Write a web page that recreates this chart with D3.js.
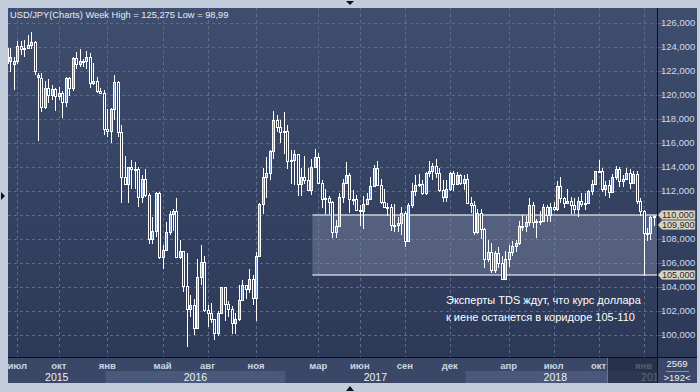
<!DOCTYPE html>
<html><head><meta charset="utf-8">
<script src="https://cdn.jsdelivr.net/npm/d3@7"></script>
<style>
body{margin:0;background:#c3ccda;}
svg{display:block;font-family:"Liberation Sans",Arial,sans-serif;}
</style>
</head><body>
<svg id="c" width="700" height="392"></svg>
<script>
// ---------------- DATA ----------------
const firstWeek = "2015-06-22";
const lastWeek  = "2019-01-21";
const open = [
122.7,122.8,122.6,122.8,124.1,123.8,123.9,124.2,124.4,121.5,121.4,119.0,120.6,120.0,120.5,119.9,120.2,119.4,121.4,120.6,123.1,122.6,122.8,122.8,123.2,121.0,121.2,120.3,
120.2,117.2,117.0,118.8,121.1,116.9,113.2,112.6,114.0,113.8,113.8,111.5,113.0,111.7,108.0,108.7,111.8,106.5,107.1,108.6,110.1,110.3,106.5,107.0,104.1,102.2,102.5,100.6,104.8,106.1,102.1,101.8,101.3,100.2,101.8,104.0,102.6,102.2,101.0,101.3,102.9,104.2,103.8,104.7,103.1,106.6,110.9,113.2,113.5,115.3,117.9,117.3,
116.9,117.0,114.5,114.6,115.1,112.6,113.2,112.9,112.1,114.0,114.8,112.7,111.3,111.4,111.1,108.6,109.1,111.5,112.7,113.3,111.3,111.3,110.4,110.3,110.9,111.3,112.4,113.9,112.5,111.1,110.7,110.7,109.2,109.2,109.3,110.2,107.8,110.8,112.0,112.5,112.6,111.8,113.5,113.7,114.1,113.5,112.1,111.5,112.2,113.5,112.6,113.3,
112.7,113.0,111.0,110.8,108.6,110.2,108.8,106.3,106.9,105.4,106.8,106.0,104.7,106.3,106.9,107.4,107.7,109.1,109.1,109.4,110.8,109.4,109.5,109.5,110.7,110.0,110.7,110.5,112.4,111.4,111.0,111.2,110.8,110.5,111.2,110.9,111.0,112.0,112.6,113.7,113.7,112.2,112.5,111.9,113.2,113.8,112.8,113.0,113.5,112.7,113.4,111.2,110.3,
108.5,108.5,109.8];
const high = [
124.4,123.9,123.2,124.5,124.5,124.6,125.0,125.28,124.5,121.8,121.8,121.2,121.3,120.8,120.6,120.7,120.3,121.5,121.5,123.2,123.6,123.8,123.0,123.7,123.5,122.7,121.5,120.6,
120.4,118.8,118.9,121.7,121.2,117.5,114.9,114.0,114.6,114.4,114.0,113.3,113.8,111.8,109.8,111.9,111.9,107.5,109.4,110.3,110.5,111.4,107.9,107.0,106.8,103.3,103.0,106.3,107.5,106.6,102.5,102.7,101.3,102.0,104.0,104.0,102.8,102.4,101.8,104.2,104.6,104.2,105.5,105.0,106.9,111.0,113.9,114.8,115.4,118.66,118.3,117.9,
118.6,117.5,115.4,115.4,115.1,113.9,114.95,113.9,114.7,115.5,115.2,112.9,112.2,111.6,111.2,109.6,111.8,113.0,114.4,113.5,112.1,111.7,110.8,111.6,111.8,113.2,114.2,114.5,113.0,112.2,111.0,110.9,110.9,109.8,110.7,110.3,111.0,112.7,113.3,113.4,112.9,113.6,114.5,114.3,114.7,113.9,112.9,112.9,113.6,113.7,113.6,113.4,
113.3,113.4,111.5,111.2,110.5,110.5,108.9,107.9,107.7,107.0,107.3,106.6,107.0,107.5,107.8,107.9,109.5,110.0,109.9,111.4,111.1,109.7,110.3,110.9,110.8,111.0,111.1,112.8,113.2,111.5,112.2,111.5,111.4,111.5,111.8,111.8,112.1,112.9,113.7,114.55,113.9,112.8,112.9,113.4,114.1,114.0,113.3,113.9,113.8,113.7,113.7,111.4,110.4,
108.9,109.9,110.0];
const low = [
122.6,121.9,120.4,122.6,123.3,123.2,123.8,123.8,121.7,116.2,118.6,118.8,119.3,119.6,118.7,119.6,118.1,119.0,119.9,120.3,122.2,122.3,122.3,122.2,120.6,120.8,120.2,120.1,
116.7,116.5,116.0,117.9,116.5,111.0,112.5,111.0,112.2,112.2,110.7,111.0,111.5,107.6,107.6,108.2,106.3,105.5,107.0,108.3,108.7,106.5,106.3,103.6,99.0,101.5,100.0,100.6,104.2,101.9,100.7,101.0,99.55,99.9,101.8,101.2,101.5,100.1,100.1,101.2,102.9,103.0,103.5,102.5,101.2,106.6,110.1,111.4,112.9,114.7,116.9,116.0,
115.1,113.8,112.6,112.5,111.6,111.6,112.6,112.1,111.7,113.9,112.6,110.6,110.1,110.1,108.1,108.1,109.1,111.0,112.7,110.2,110.8,110.3,109.1,108.8,110.9,111.3,112.3,112.4,110.9,110.6,109.9,108.7,108.6,108.6,108.3,107.3,107.8,110.6,111.6,112.3,111.7,111.7,113.2,112.9,113.1,111.9,111.1,111.1,112.0,112.0,112.5,112.5,
112.1,110.9,110.2,108.3,108.4,108.0,105.6,106.1,105.2,105.2,105.6,104.6,104.6,105.7,106.6,106.9,107.5,108.7,108.6,109.1,108.9,108.1,109.2,109.4,109.4,109.4,110.3,110.3,111.0,110.6,110.9,110.1,110.1,109.8,110.7,110.4,110.9,111.7,112.5,113.5,111.9,111.6,111.4,111.8,112.9,112.3,112.3,113.0,112.2,112.6,110.9,109.9,104.9,
107.8,107.9,109.1];
const close = [
123.9,123.2,122.8,124.1,123.8,123.9,124.2,124.4,122.0,121.7,119.0,120.6,120.0,120.5,119.9,120.2,119.4,121.4,120.6,123.1,122.6,122.8,122.8,123.2,121.0,121.2,120.3,120.2,
117.2,117.0,118.8,121.1,116.9,113.2,112.6,114.0,113.8,113.8,111.5,113.0,111.7,108.0,108.7,111.8,106.5,107.1,108.6,110.1,110.3,106.5,107.0,104.1,102.2,102.5,100.6,104.8,106.1,102.1,101.8,101.3,100.2,101.8,104.0,102.6,102.2,101.0,101.3,102.9,104.2,103.8,104.7,103.1,106.6,110.9,113.2,113.5,115.3,117.9,117.3,116.9,
117.0,114.5,114.6,115.1,112.6,113.2,112.9,112.1,114.0,114.8,112.7,111.3,111.4,111.1,108.6,109.1,111.5,112.7,113.3,111.3,111.3,110.4,110.3,110.9,111.3,112.4,113.9,112.5,111.1,110.7,110.7,109.2,109.2,109.3,110.2,107.8,110.8,112.0,112.5,112.6,111.8,113.5,113.7,114.1,113.5,112.1,111.5,112.2,113.5,112.6,113.3,112.7,
113.0,111.0,110.8,108.6,110.2,108.8,106.3,106.9,105.4,106.8,106.0,104.7,106.3,106.9,107.4,107.7,109.1,109.1,109.4,110.8,109.4,109.5,109.5,110.7,110.0,110.7,110.5,112.4,111.4,111.0,111.2,110.8,110.5,111.2,110.9,111.0,112.0,112.6,113.7,113.7,112.2,112.5,111.9,113.2,113.8,112.8,113.0,113.5,112.7,113.4,111.2,110.3,108.5,
108.5,109.8,109.9];

const yTicks = [100,102,104,106,108,110,112,114,116,118,120,122,124,126];
const monthTicks  = ["2015-07-13","2015-10-05","2016-01-11","2016-05-02","2016-08-01","2016-11-07","2017-03-13","2017-06-05","2017-09-04","2017-12-04","2018-04-02","2018-07-02","2018-10-01","2018-12-31"];
const monthLabels = ["июл","окт","янв","май","авг","ноя","мар","июн","сен","дек","апр","июл","окт","янв"];
const yearStarts  = ["2015-06-22","2016-01-04","2017-01-02","2018-01-01","2018-12-31"];
const yearLabels  = ["2015","2016","2017","2018","2019"];
const corridor = {from:"2017-03-01", hi:110, lo:105};
const tagValues = [110, 109.9, 105];
const tagLabels = ["110,000","109,900","105,000"];
const titleText = "USD/JPY(Charts) Week High = 125,275 Low = 98,99";
const noteLines = ["Эксперты TDS ждут, что курс доллара","к иене останется в коридоре 105-110"];
const cornerTop = "2569", cornerBottom = ">192<";

// ---------------- LAYOUT ----------------
const P = {l:8, t:8, r:657, b:357, axB:383, axR:697};
const parse = d3.utcParse("%Y-%m-%d");
const weeks = d3.utcMonday.range(parse(firstWeek), d3.utcDay.offset(parse(lastWeek),1));
const data = weeks.map((d,i)=>({d, o:open[i], h:high[i], l:low[i], c:close[i]}));

const x = d3.scaleUtc().domain([parse(firstWeek), parse(lastWeek)]).range([6.9, 653.9]);
const y = d3.scaleLinear().domain([100,126]).range([335,23]);
const step = x(weeks[1]) - x(weeks[0]);

const svg = d3.select("#c");
const defs = svg.append("defs");
const g1 = defs.append("linearGradient").attr("id","bg").attr("x1",0).attr("y1",0).attr("x2",0).attr("y2",1);
g1.append("stop").attr("offset","0%").attr("stop-color","#3f4d6e");
g1.append("stop").attr("offset","100%").attr("stop-color","#2c3957");
defs.append("clipPath").attr("id","plotclip").append("rect")
  .attr("x",P.l).attr("y",P.t).attr("width",P.r-P.l).attr("height",P.b-P.t);
defs.append("clipPath").attr("id","axclip").append("rect")
  .attr("x",P.l).attr("y",P.b).attr("width",P.r-P.l).attr("height",P.axB-P.b);

svg.append("rect").attr("width",700).attr("height",392).attr("fill","#c3ccda");
svg.append("rect").attr("x",P.l).attr("y",P.t).attr("width",P.axR-P.l).attr("height",P.b-P.t).attr("fill","url(#bg)");
svg.append("rect").attr("x",P.l).attr("y",P.b).attr("width",P.r-P.l).attr("height",P.axB-P.b).attr("fill","#3a4766");
svg.append("rect").attr("x",P.r).attr("y",P.b).attr("width",P.axR-P.r).attr("height",P.axB-P.b).attr("fill","#3a4766");

// year bands
const axg = svg.append("g").attr("clip-path","url(#axclip)");
yearStarts.forEach((s,i)=>{
  const x0 = i===0 ? P.l : x(parse(s)) + step/2;
  const x1 = i<yearStarts.length-1 ? x(parse(yearStarts[i+1])) + step/2 : P.r + 30;
  if (i%2===1) axg.append("rect").attr("x",x0).attr("y",371).attr("width",x1-x0).attr("height",12).attr("fill","#4a5879");
  const cx = i===yearStarts.length-1 ? x0+7.5 : (x0+x1)/2;
  axg.append("text").attr("x", cx).attr("y",380.5).attr("text-anchor","middle")
    .attr("fill","#eef2f8").attr("font-size",10.5).text(yearLabels[i]);
});
monthTicks.forEach((s,i)=>{
  axg.append("text").attr("x",x(parse(s))).attr("y",368.5).attr("text-anchor","middle")
    .attr("fill","#dbe3f0").attr("font-size",9.5).attr("font-weight","bold").attr("opacity",0.9).text(monthLabels[i]);
});
svg.append("rect").attr("x",607).attr("y",P.b).attr("width",P.r-607).attr("height",P.axB-P.b).attr("fill","#1f2a42").attr("opacity",0.7);
svg.append("line").attr("x1",607.5).attr("x2",607.5).attr("y1",P.b).attr("y2",P.axB).attr("stroke","#6a7691");

// grid
const grid = svg.append("g").attr("clip-path","url(#plotclip)");
grid.selectAll(".hg").data(yTicks).join("line")
  .attr("x1",P.l).attr("x2",P.r).attr("y1",d=>Math.round(y(d))+0.5).attr("y2",d=>Math.round(y(d))+0.5)
  .attr("stroke","#5d6b8c").attr("stroke-dasharray","3,3");
grid.selectAll(".vg").data(monthTicks).join("line")
  .attr("x1",d=>Math.round(x(parse(d)))+0.5).attr("x2",d=>Math.round(x(parse(d)))+0.5).attr("y1",P.t).attr("y2",P.b)
  .attr("stroke","#5d6b8c").attr("stroke-dasharray","3,3");
svg.selectAll(".hg2").data(yTicks).join("line")
  .attr("x1",P.r).attr("x2",P.r+6).attr("y1",d=>Math.round(y(d))+0.5).attr("y2",d=>Math.round(y(d))+0.5)
  .attr("stroke","#5d6b8c");

// corridor
const cg = svg.append("g").attr("clip-path","url(#plotclip)");
const cx0 = x(parse(corridor.from));
cg.append("rect").attr("x",cx0).attr("y",y(corridor.hi)).attr("width",P.r-cx0).attr("height",y(corridor.lo)-y(corridor.hi))
  .attr("fill","#8c97b0").attr("opacity",0.38);
[corridor.hi, corridor.lo].forEach(v=>{
  cg.append("line").attr("x1",cx0).attr("x2",P.r).attr("y1",y(v)).attr("y2",y(v)).attr("stroke","#c9cdd8").attr("stroke-width",1.6);
});

// candles
const cdl = svg.append("g").attr("clip-path","url(#plotclip)").attr("shape-rendering","crispEdges");
data.forEach(d=>{
  const px = Math.round(x(d.d));
  cdl.append("line").attr("x1",px+0.5).attr("x2",px+0.5).attr("y1",y(d.h)).attr("y2",y(d.l)).attr("stroke","#ffffff").attr("stroke-width",1);
  const top = Math.round(y(Math.max(d.o,d.c))), bot = Math.round(y(Math.min(d.o,d.c)));
  const h = Math.max(1, bot-top);
  cdl.append("rect").attr("x",px-1).attr("y",top).attr("width",3).attr("height",h+1).attr("fill","#ffffff");
  if (h>=2) cdl.append("rect").attr("x",px).attr("y",top+1).attr("width",1).attr("height",h-1)
      .attr("fill", d.c>=d.o ? "#8aa3d6" : "#34415f");
});

svg.append("line").attr("x1",P.r+0.5).attr("x2",P.r+0.5).attr("y1",P.t).attr("y2",P.axB).attr("stroke","#0b0f18");
svg.append("line").attr("x1",P.l).attr("x2",P.axR).attr("y1",P.b+0.5).attr("y2",P.b+0.5).attr("stroke","#0b0f18");

// y labels
const fmt = v=>v.toFixed(3).replace(".",",");
svg.selectAll(".yl").data(yTicks.filter(v=>!tagValues.some(t=>Math.abs(t-v)<0.5))).join("text")
  .attr("x",661).attr("y",d=>y(d)).attr("dy","0.36em").attr("fill","#cfdbf0").attr("font-size",9.5).text(fmt);

// price tags (second one pushed down to avoid covering the first)
const tagY = [y(tagValues[0]), y(tagValues[0])+10, y(tagValues[2])];
tagValues.forEach((v,i)=>{
  const ty = tagY[i];
  svg.append("path").attr("d",`M${P.r+1},${ty} L${P.r+5},${ty-4.5} L${P.r+38},${ty-4.5} L${P.r+38},${ty+4.5} L${P.r+5},${ty+4.5} Z`)
    .attr("fill","#d9d5bf").attr("stroke","#9c9a88").attr("stroke-width",0.6);
  svg.append("text").attr("x",P.r+5).attr("y",ty).attr("dy","0.34em").attr("fill","#1e2638").attr("font-size",9).text(tagLabels[i]);
});

// corner cell
svg.append("text").attr("x",677).attr("y",367).attr("text-anchor","middle").attr("fill","#eef2f8").attr("font-size",9.5).text(cornerTop);
svg.append("line").attr("x1",666).attr("x2",689).attr("y1",371.5).attr("y2",371.5).attr("stroke","#8a96b0");
svg.append("text").attr("x",677).attr("y",380.5).attr("text-anchor","middle").attr("fill","#eef2f8").attr("font-size",9.5).text(cornerBottom);

svg.append("text").attr("x",10).attr("y",18).attr("fill","#e6ecf6").attr("font-size",9.3).text(titleText);

noteLines.forEach((t,i)=>{
  svg.append("text").attr("x",446).attr("y",304+i*17).attr("fill","#ffffff").attr("font-size",11).text(t);
});

svg.append("path").attr("d","M346,1 L354,1 L350,5 Z").attr("fill","#111");
svg.append("path").attr("d","M346,391 L354,391 L350,386 Z").attr("fill","#111");
svg.append("path").attr("d","M1,192 L1,200 L5,196 Z").attr("fill","#111");
</script>
</body></html>
